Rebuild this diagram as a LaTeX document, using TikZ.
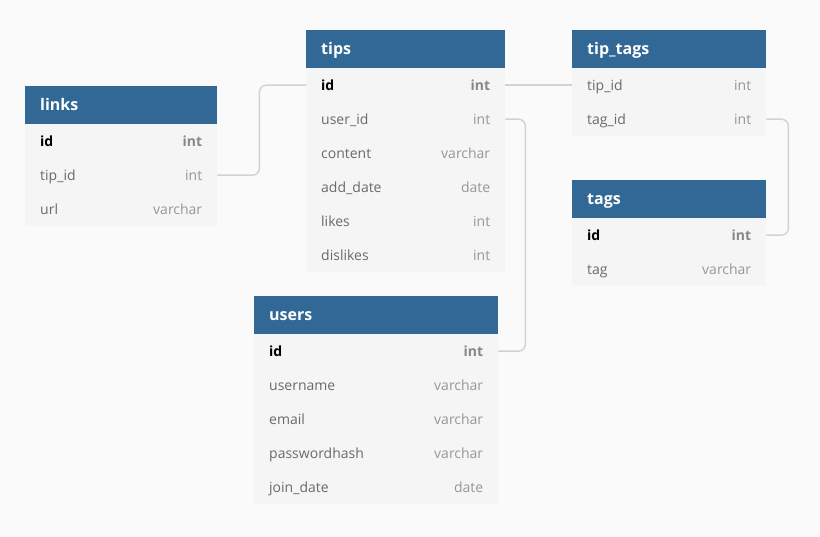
\documentclass[tikz,border=0pt]{standalone}
\usepackage{fontspec}
\setmainfont{Open Sans}

\definecolor{pagebg}{HTML}{FAFAFA}
\definecolor{bodybg}{HTML}{F5F5F5}
\definecolor{hdrbg}{HTML}{316896}
\definecolor{fieldc}{HTML}{6A6A6A}
\definecolor{typec}{HTML}{979797}
\definecolor{pktype}{HTML}{888888}
\definecolor{linkc}{HTML}{D2D2D2}
\definecolor{sepc}{HTML}{F3F3F3}

% ordinary column: name on the left, type on the right
\newcommand\fld[2]{{\color{fieldc}#1}\hfill{\color{typec}#2}}
% primary key column
\newcommand\pkf[2]{{\bfseries\color{black}#1}\hfill{\bfseries\color{pktype}#2}}

\tikzset{
  hdrbox/.style={rectangle, fill=hdrbg, anchor=north west, inner xsep=15pt, inner ysep=0pt,
    minimum height=38pt, text height=14pt, text depth=4pt, align=left,
    font=\fontsize{16}{18}\selectfont\bfseries, text=white},
  rowbox/.style={rectangle, fill=bodybg, anchor=north west, inner xsep=15pt, inner ysep=0pt,
    minimum height=34pt, text height=13pt, text depth=3pt,
    font=\fontsize{14}{16}\selectfont},
  linksT/.style={minimum width=192pt, text width=162pt},
  tipsT/.style={minimum width=199pt, text width=169pt},
  tagsT/.style={minimum width=194pt, text width=164pt},
  usersT/.style={minimum width=244pt, text width=214pt},
  relation/.style={draw=linkc, line width=1.4pt, rounded corners=7pt},
  rowsep/.style={draw=sepc, line width=0.5pt},
}

\begin{document}
\begin{tikzpicture}[x=1pt, y=-1pt]
  \fill[pagebg] (0,0) rectangle (820,537);
  \useasboundingbox (0,0) rectangle (820,537);

  % links
  \node[hdrbox, linksT] (links) at (25,86) {links};
  \node[rowbox, linksT] (links-id)    at (25,124) {\pkf{id}{int}};
  \node[rowbox, linksT] (links-tipid) at (25,158) {\fld{tip\_id}{int}};
  \node[rowbox, linksT] (links-url)   at (25,192) {\fld{url}{varchar}};

  % tips
  \node[hdrbox, tipsT] (tips) at (306,30) {tips};
  \node[rowbox, tipsT] (tips-id)       at (306,68)  {\pkf{id}{int}};
  \node[rowbox, tipsT] (tips-userid)   at (306,102) {\fld{user\_id}{int}};
  \node[rowbox, tipsT] (tips-content)  at (306,136) {\fld{content}{varchar}};
  \node[rowbox, tipsT] (tips-adddate)  at (306,170) {\fld{add\_date}{date}};
  \node[rowbox, tipsT] (tips-likes)    at (306,204) {\fld{likes}{int}};
  \node[rowbox, tipsT] (tips-dislikes) at (306,238) {\fld{dislikes}{int}};

  % tip_tags
  \node[hdrbox, tagsT] (tiptags) at (572,30) {tip\_tags};
  \node[rowbox, tagsT] (tiptags-tipid) at (572,68)  {\fld{tip\_id}{int}};
  \node[rowbox, tagsT] (tiptags-tagid) at (572,102) {\fld{tag\_id}{int}};

  % tags
  \node[hdrbox, tagsT] (tags) at (572,180) {tags};
  \node[rowbox, tagsT] (tags-id)  at (572,218) {\pkf{id}{int}};
  \node[rowbox, tagsT] (tags-tag) at (572,252) {\fld{tag}{varchar}};

  % users
  \node[hdrbox, usersT] (users) at (254,296) {users};
  \node[rowbox, usersT] (users-id)       at (254,334) {\pkf{id}{int}};
  \node[rowbox, usersT] (users-username) at (254,368) {\fld{username}{varchar}};
  \node[rowbox, usersT] (users-email)    at (254,402) {\fld{email}{varchar}};
  \node[rowbox, usersT] (users-pwhash)   at (254,436) {\fld{passwordhash}{varchar}};
  \node[rowbox, usersT] (users-joindate) at (254,470) {\fld{join\_date}{date}};

  % faint lines between rows
  \foreach \r in {links-id, links-tipid,
                  tips-id, tips-userid, tips-content, tips-adddate, tips-likes,
                  tiptags-tipid, tags-id,
                  users-id, users-username, users-email, users-pwhash}
    \draw[rowsep] (\r.south west) -- (\r.south east);

  % relations
  \draw[relation] (links-tipid.east) -- ++(42,0) |- (tips-id.west);
  \draw[relation] (tips-id.east) -- (tiptags-tipid.west);
  \draw[relation] (tips-userid.east) -- ++(20,0) |- (users-id.east);
  \draw[relation] (tiptags-tagid.east) -- ++(22,0) |- (tags-id.east);
\end{tikzpicture}
\end{document}
